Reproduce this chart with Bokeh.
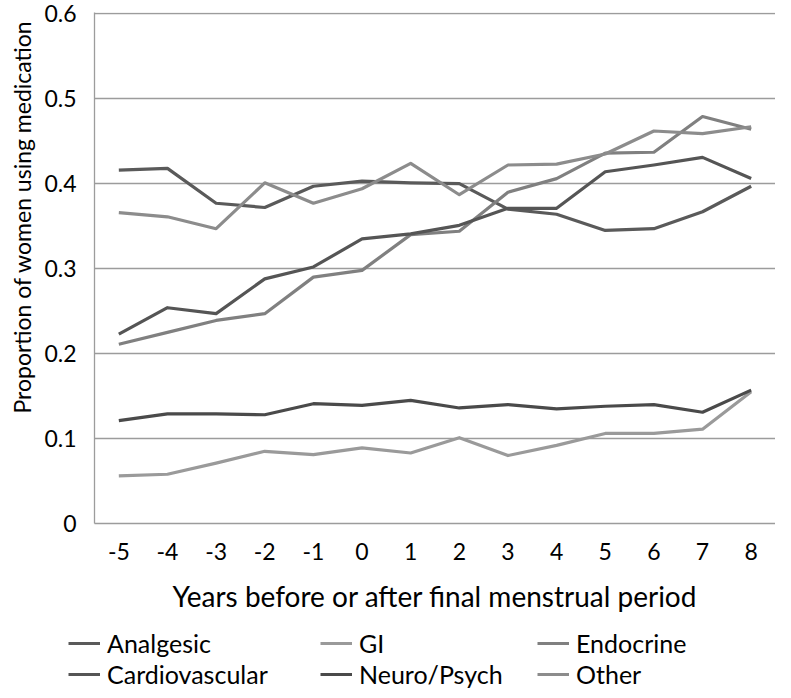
from bokeh.plotting import figure
from bokeh.layouts import column
from bokeh.models import (FactorRange, Range1d, FixedTicker, Legend, LegendItem, Title)
from bokeh.embed import file_html
from bokeh.resources import INLINE

years = ["-5", "-4", "-3", "-2", "-1", "0", "1", "2", "3", "4", "5", "6", "7", "8"]
analgesic = [0.416, 0.418, 0.377, 0.372, 0.397, 0.403, 0.401, 0.400, 0.370, 0.364, 0.345, 0.347, 0.367, 0.397]
gi = [0.056, 0.058, 0.071, 0.085, 0.081, 0.089, 0.083, 0.101, 0.080, 0.092, 0.106, 0.106, 0.111, 0.155]
endocrine = [0.211, 0.225, 0.239, 0.247, 0.290, 0.298, 0.340, 0.344, 0.390, 0.406, 0.436, 0.437, 0.479, 0.464]
cardiovascular = [0.223, 0.254, 0.247, 0.288, 0.302, 0.335, 0.341, 0.351, 0.371, 0.371, 0.414, 0.422, 0.431, 0.406]
neuro_psych = [0.121, 0.129, 0.129, 0.128, 0.141, 0.139, 0.145, 0.136, 0.140, 0.135, 0.138, 0.140, 0.131, 0.157]
other = [0.366, 0.361, 0.347, 0.401, 0.377, 0.394, 0.424, 0.387, 0.422, 0.423, 0.435, 0.462, 0.459, 0.467]

series_names = ["Analgesic", "GI", "Endocrine", "Cardiovascular", "Neuro/Psych", "Other"]
series_values = [analgesic, gi, endocrine, cardiovascular, neuro_psych, other]
series_colors = ["#5a5a5a", "#9a9a9a", "#808080", "#555555", "#4a4a4a", "#8c8c8c"]

y_ticks = [0, 0.1, 0.2, 0.3, 0.4, 0.5, 0.6]
y_tick_labels = ["0", "0.1", "0.2", "0.3", "0.4", "0.5", "0.6"]

FONT = "Lato"
GRID = "#9c9c9c"
LINE_W = 3.2

p = figure(width=775, height=625, output_backend="svg", toolbar_location=None,
           x_range=FactorRange(factors=years, range_padding=0),
           y_range=Range1d(0, 0.6015),
           min_border_left=87, min_border_right=0, min_border_top=12, min_border_bottom=102)
p.outline_line_color = None

p.xgrid.grid_line_color = None
p.ygrid.grid_line_color = GRID
p.ygrid.grid_line_width = 1.3
p.yaxis.ticker = FixedTicker(ticks=y_ticks)
p.yaxis.major_label_overrides = {t: l for t, l in zip(y_ticks, y_tick_labels)}

for ax in (p.xaxis, p.yaxis):
    ax.axis_line_color = GRID
    ax.axis_line_width = 1.3
    ax.major_tick_line_color = None
    ax.minor_tick_line_color = None
    ax.major_label_text_font = FONT
    ax.major_label_text_font_size = "23px"
    ax.major_label_text_color = "black"

p.yaxis.major_label_standoff = 12
p.xaxis.major_label_standoff = 13
p.xaxis.axis_label = "Years before or after final menstrual period"
p.xaxis.axis_label_text_font = FONT
p.xaxis.axis_label_text_font_size = "28px"
p.xaxis.axis_label_text_font_style = "normal"
p.xaxis.axis_label_text_color = "black"
p.xaxis.axis_label_standoff = 16

for name, vals, col in zip(series_names, series_values, series_colors):
    p.line(x=years, y=vals, line_color=col, line_width=LINE_W, line_join="round")

# y-axis title, anchored toward the top like the original
ytitle = Title(text="Proportion of women using medication", align="right", offset=8,
               text_font=FONT, text_font_size="23px", text_font_style="normal",
               text_color="black", standoff=11)
p.add_layout(ytitle, "left")

# legend strip below the chart
lg = figure(width=775, height=64, output_backend="svg", toolbar_location=None,
            x_range=Range1d(0, 1), y_range=Range1d(0, 1),
            x_axis_location=None, y_axis_location=None,
            min_border_left=0, min_border_right=0, min_border_top=0, min_border_bottom=0)
lg.grid.visible = False
lg.outline_line_color = None

# keep the legend strip's frame independent of the chart's frame
try:
    lg.frame_align = False
    legend_x = [68, 320, 537]
except AttributeError:
    legend_x = [0, 233, 450]

proxies = {}
for name, col in zip(series_names, series_colors):
    proxies[name] = lg.line(x=[5, 6], y=[5, 6], line_color=col, line_width=LINE_W)

legend_columns = [("Analgesic", "Cardiovascular"), ("GI", "Neuro/Psych"), ("Endocrine", "Other")]
for (a, b), lx in zip(legend_columns, legend_x):
    leg = Legend(items=[LegendItem(label=a, renderers=[proxies[a]]),
                        LegendItem(label=b, renderers=[proxies[b]])],
                 location=(lx, 0), orientation="vertical",
                 glyph_width=32, glyph_height=26, label_height=26, label_standoff=7,
                 spacing=1, padding=0, margin=0, border_line_color=None,
                 background_fill_alpha=0,
                 label_text_font=FONT, label_text_font_size="25px", label_text_color="black")
    lg.add_layout(leg, "center")

layout = column(p, lg, spacing=0)
open("out.html", "w").write(file_html(layout, INLINE))
